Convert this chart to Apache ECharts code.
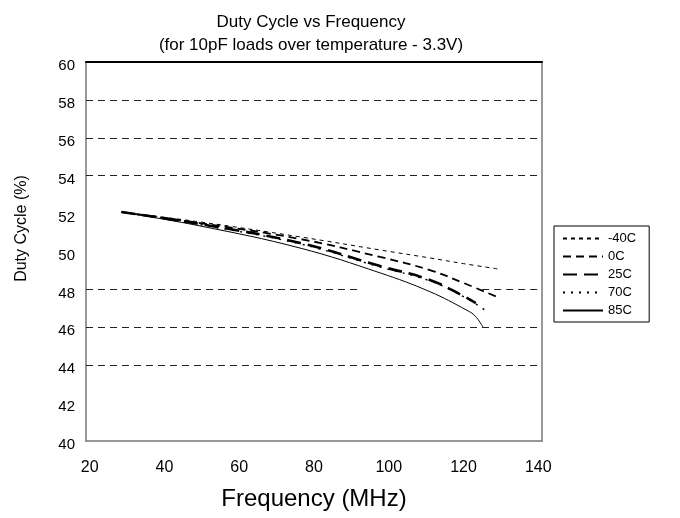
<!DOCTYPE html>
<html>
<head>
<meta charset="utf-8">
<script src="https://cdn.jsdelivr.net/npm/echarts@6/dist/echarts.min.js"></script>
<style>
  html, body { margin: 0; padding: 0; background: #fff; }
  #chart { width: 680px; height: 518px; }
</style>
</head>
<body>
<div id="chart"></div>
<script>
// tick labels
const xTicks = [20, 40, 60, 80, 100, 120, 140]
const gridValues = [58, 56, 54, 46, 44] // dashed reference lines

// curves (MHz, %)
const freqM40 = [28.5, 49.5, 76.3, 97.7, 111, 120, 129.2]
const dutyM40 = [52.08, 51.56, 50.77, 50.08, 49.66, 49.36, 49.08]

const freq0 = [28.5, 49.5, 76.3, 97.7, 111, 120, 129]
const duty0 = [52.08, 51.5, 50.66, 49.71, 49.02, 48.34, 47.6]

const freq25 = [28.5, 49.5, 76.3, 97.7, 111, 120, 123.3]
const duty25 = [52.08, 51.45, 50.45, 49.23, 48.5, 47.65, 47.28]

const freq70 = [28.5, 49.5, 76.3, 97.7, 111, 120, 126.5]
const duty70 = [52.08, 51.42, 50.4, 49.18, 48.45, 47.62, 46.81]

const freq85 = [28.5, 49.5, 76.3, 97.7, 111, 120.9, 123.1, 125.2]
const duty85 = [52.08, 51.35, 50.18, 48.87, 47.88, 46.9, 46.6, 46.02]

const pairs = (f, d) => f.map((v, i) => [v, d[i]])

const chart = echarts.init(document.getElementById('chart'))

function line (name, f, d, width, dash) {
  return {
    name,
    type: 'line',
    smooth: 0.4,
    symbol: 'none',
    data: pairs(f, d),
    itemStyle: { color: '#000' },
    lineStyle: { color: '#000', width, type: dash }
  }
}

const gridLine = { color: '#222', width: 1, type: [7, 5] }

const series = [
  line('-40C', freqM40, dutyM40, 1, [4, 4]),
  line('0C', freq0, duty0, 1.8, [8, 5]),
  line('25C', freq25, duty25, 2.6, [14, 7]),
  line('70C', freq70, duty70, 1.4, [2, 6]),
  line('85C', freq85, duty85, 1, 'solid')
]

series[0].markLine = {
  silent: true,
  symbol: 'none',
  label: { show: false },
  lineStyle: gridLine,
  data: [
    ...gridValues.map(v => ({ yAxis: v })),
    [{ coord: [19, 48] }, { coord: [91.5, 48] }],
    [{ coord: [125, 48] }, { coord: [141, 48] }]
  ]
}

const option = {
  animation: false,
  textStyle: { fontFamily: 'Liberation Sans, Arial, sans-serif', color: '#000' },
  title: {
    text: 'Duty Cycle vs Frequency',
    subtext: '(for 10pF loads over temperature - 3.3V)',
    left: 306,
    textAlign: 'center',
    top: 9,
    itemGap: 6,
    textStyle: { fontSize: 17, fontWeight: 'normal', color: '#000' },
    subtextStyle: { fontSize: 17, color: '#000' }
  },
  legend: {
    orient: 'vertical',
    left: 554,
    top: 226,
    padding: [6, 13, 5, 8],
    itemWidth: 40,
    itemHeight: 12,
    itemGap: 5,
    borderColor: '#000',
    borderWidth: 1,
    itemStyle: { opacity: 0 },
    textStyle: { fontSize: 13, color: '#000' },
    data: ['-40C', '0C', '25C', '70C', '85C']
  },
  grid: { left: 86, right: 138, top: 62, bottom: 77 },
  xAxis: [
    {
      type: 'value',
      min: 19,
      max: 141,
      name: 'Frequency (MHz)',
      nameLocation: 'middle',
      nameGap: 46,
      nameTextStyle: { fontSize: 24, color: '#000' },
      axisLine: { lineStyle: { color: '#777', width: 1.5 } },
      axisTick: { show: false },
      splitLine: { show: false },
      axisLabel: { customValues: xTicks, fontSize: 16, color: '#000', margin: 19 }
    },
    {
      type: 'value',
      position: 'top',
      min: 19,
      max: 141,
      axisLine: { show: true, lineStyle: { color: '#000', width: 2 } },
      axisTick: { show: false },
      axisLabel: { show: false },
      splitLine: { show: false }
    }
  ],
  yAxis: [
    {
      type: 'value',
      min: 40,
      max: 60,
      interval: 2,
      name: 'Duty Cycle (%)',
      nameLocation: 'middle',
      nameGap: 56,
      nameTextStyle: { fontSize: 16, color: '#000', padding: [0, 0, 0, 46] },
      axisLine: { show: true, lineStyle: { color: '#777', width: 1.5 } },
      axisTick: { show: false },
      splitLine: { show: false },
      axisLabel: {
        color: '#000',
        margin: 11,
        formatter: '{a|{value}}',
        rich: { a: { fontSize: 15, color: '#000', padding: [8, 0, 0, 0] } }
      }
    },
    {
      type: 'value',
      position: 'right',
      min: 40,
      max: 60,
      interval: 2,
      axisLine: { show: true, lineStyle: { color: '#777', width: 1.5 } },
      axisTick: { show: false },
      axisLabel: { show: false },
      splitLine: { show: false }
    }
  ],
  series
}

chart.setOption(option)
</script>
</body>
</html>
